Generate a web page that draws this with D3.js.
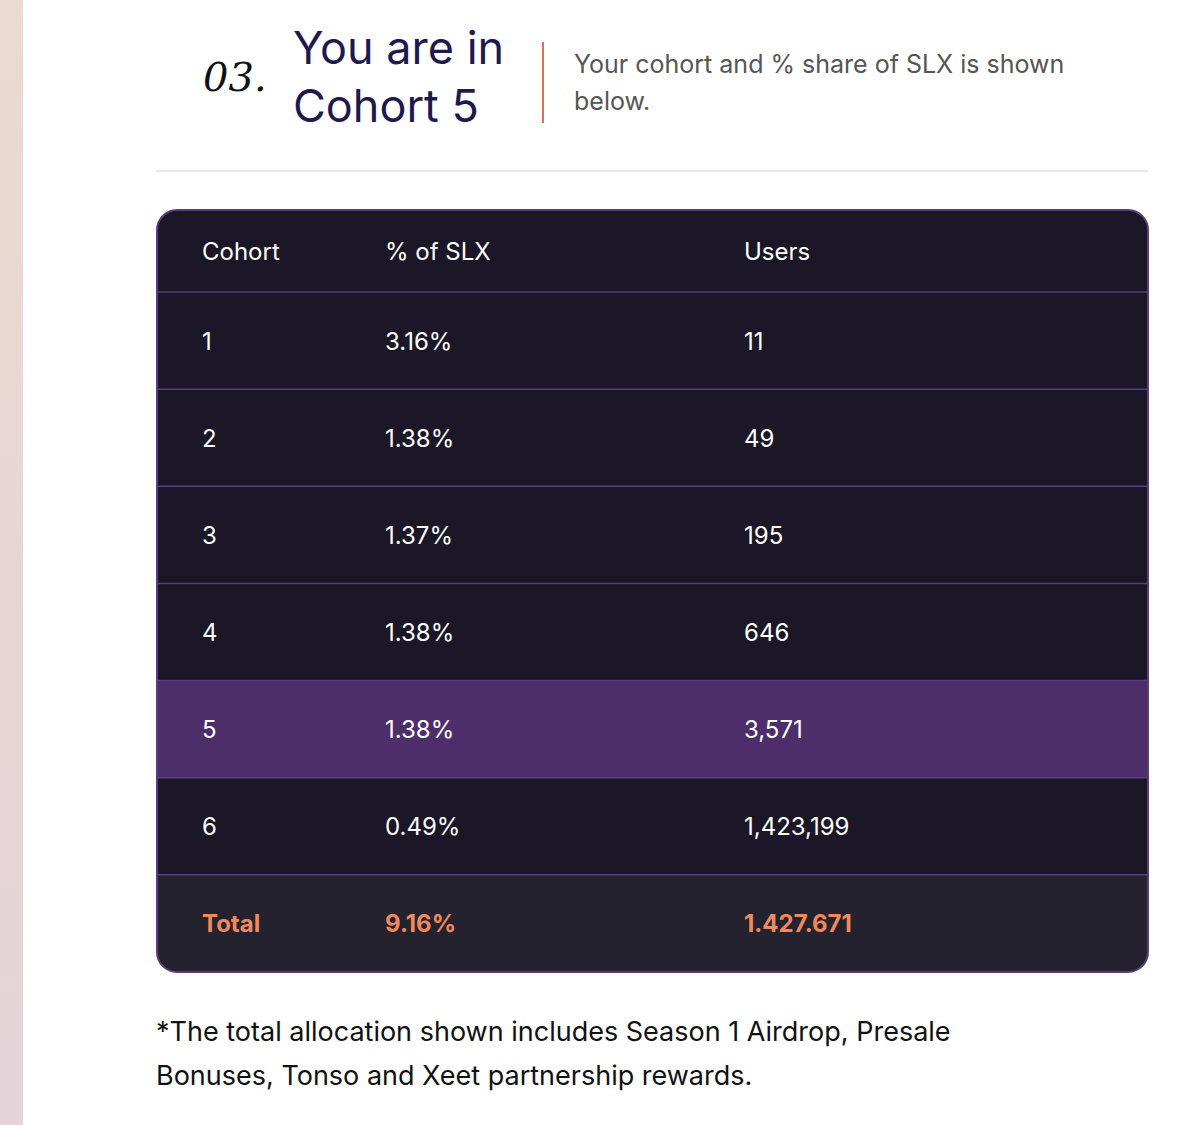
<!DOCTYPE html>
<html><head><meta charset="utf-8">
<script src="https://cdn.jsdelivr.net/npm/d3@7"></script>
<style>body{margin:0;background:#fff}</style></head>
<body><svg id="c" width="1200" height="1125"></svg>
<script>
const headers=["Cohort","% of SLX","Users"];
const cohorts=["1","2","3","4","5","6"];
const shares=["3.16%","1.38%","1.37%","1.38%","1.38%","0.49%"];
const users=["11","49","195","646","3,571","1,423,199"];
const total=["Total","9.16%","1.427.671"];
const highlight="5";

const svg=d3.select("#c");
const defs=svg.append("defs");
const g=defs.append("linearGradient").attr("id","lg").attr("x1",0).attr("y1",0).attr("x2",0).attr("y2",1);
g.append("stop").attr("offset","0").attr("stop-color","#ecd9cf");
g.append("stop").attr("offset","1").attr("stop-color","#e4d3d9");
svg.append("rect").attr("x",0).attr("y",0).attr("width",23).attr("height",1125).attr("fill","url(#lg)");

const F="Inter, 'Noto Sans', sans-serif";
svg.append("text").attr("x",203).attr("y",91).attr("font-family","'DejaVu Serif', serif").attr("font-style","italic").attr("font-size",40).attr("fill","#111").text("03.");
svg.append("text").attr("x",293).attr("y",64).attr("font-family",F).attr("font-size",45).attr("fill","#1e1a4d").text("You are in");
svg.append("text").attr("x",293).attr("y",122).attr("font-family",F).attr("font-size",45).attr("fill","#1e1a4d").text("Cohort 5");
svg.append("line").attr("x1",543).attr("x2",543).attr("y1",42).attr("y2",123).attr("stroke","#e0734a").attr("stroke-width",2);
svg.append("text").attr("x",574).attr("y",73).attr("font-family",F).attr("font-size",25).attr("fill","#555").text("Your cohort and % share of SLX is shown");
svg.append("text").attr("x",574).attr("y",110).attr("font-family",F).attr("font-size",25).attr("fill","#555").text("below.");
svg.append("line").attr("x1",156).attr("x2",1148).attr("y1",171).attr("y2",171).attr("stroke","#e2e2e2").attr("stroke-width",1.5);

const L=157,R=1148,T=210,B=972;
const rows=["header",...cohorts,"total"];
const heights={header:82};
const y=d3.scaleBand().domain(cohorts.concat(["total"])).range([292,B]);
const colX=d3.scaleOrdinal().domain([0,1,2]).range([202,385,744]);

svg.append("clipPath").attr("id","cp").append("rect").attr("x",L).attr("y",T).attr("width",R-L).attr("height",B-T).attr("rx",20);
const t=svg.append("g").attr("clip-path","url(#cp)");
t.append("rect").attr("x",L).attr("y",T).attr("width",R-L).attr("height",B-T).attr("fill","#1b1726");
t.selectAll(".r").data(cohorts.concat(["total"])).join("rect").attr("x",L).attr("width",R-L)
 .attr("y",d=>y(d)).attr("height",y.bandwidth())
 .attr("fill",d=>d===highlight?"#4e2d6b":d==="total"?"#252230":"#1b1726");
t.selectAll(".l").data(cohorts.concat(["total"])).join("line").attr("x1",L).attr("x2",R)
 .attr("y1",d=>y(d)).attr("y2",d=>y(d)).attr("stroke","#5a3d7e").attr("stroke-width",1.5);
svg.append("rect").attr("x",L).attr("y",T).attr("width",R-L).attr("height",B-T).attr("rx",20).attr("fill","none").attr("stroke","#5a3d7e").attr("stroke-width",2);

headers.forEach((h,i)=>svg.append("text").attr("x",colX(i)).attr("y",260).attr("font-family",F).attr("font-size",24).attr("fill","#fff").text(h));
cohorts.forEach((c,k)=>{[c,shares[k],users[k]].forEach((v,i)=>svg.append("text").attr("x",colX(i)).attr("y",y(c)+y.bandwidth()/2+9).attr("font-family",F).attr("font-size",24).attr("fill","#fff").text(v));});
total.forEach((v,i)=>svg.append("text").attr("x",colX(i)).attr("y",y("total")+y.bandwidth()/2+9).attr("font-family",F).attr("font-weight",700).attr("font-size",24).attr("fill","#f08a5d").text(v));

svg.append("text").attr("x",156).attr("y",1041).attr("font-family",F).attr("font-size",27).attr("fill","#111").text("*The total allocation shown includes Season 1 Airdrop, Presale");
svg.append("text").attr("x",156).attr("y",1085).attr("font-family",F).attr("font-size",27).attr("fill","#111").text("Bonuses, Tonso and Xeet partnership rewards.");
</script></body></html>
